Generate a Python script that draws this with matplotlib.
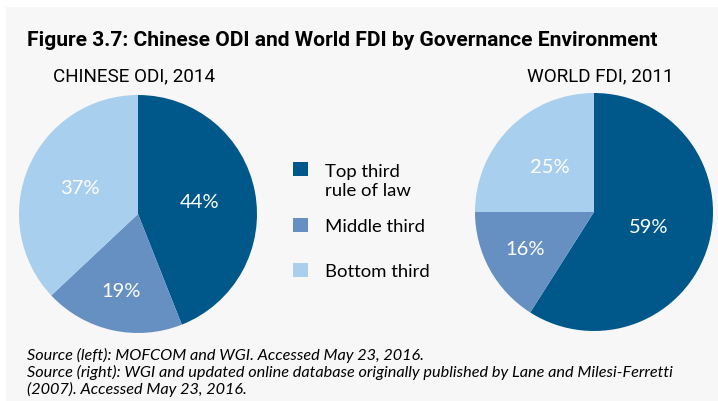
import numpy as np
import matplotlib.pyplot as plt
from matplotlib.patches import Rectangle

# data
groups = ['Top third\nrule of law', 'Middle third', 'Bottom third']
china_odi = [44, 19, 37]
world_fdi = [59, 16, 25]
colors = ['#00578a', '#6790c2', '#a9cfee']

W, H = 718, 401
fig = plt.figure(figsize=(W / 100, H / 100), dpi=100)
fig.patches.append(Rectangle((6 / W, 0), 1 - 6 / W, 1 - 7 / H, transform=fig.transFigure,
                             facecolor='#f7f7f7', edgecolor='none', zorder=-1))

head = ['Roboto', 'DejaVu Sans']
body = ['Lato', 'DejaVu Sans']


def px(x, y):
    # pixel coords (from top left) -> figure fraction
    return x / W, 1 - y / H


def draw_pie(vals, cx, cy, r, label_r):
    ax = fig.add_axes([(cx - r) / W, (H - cy - r) / H, 2 * r / W, 2 * r / H])
    wedges, _ = ax.pie(vals, colors=colors, startangle=90, counterclock=False,
                       wedgeprops=dict(linewidth=0))
    ax.set_xlim(-1, 1)
    ax.set_ylim(-1, 1)
    ax.set_aspect('equal')
    for w, v, lr in zip(wedges, vals, label_r):
        a = np.deg2rad((w.theta1 + w.theta2) / 2)
        ax.text(lr * np.cos(a), lr * np.sin(a), f'{v}%', color='white', fontsize=14.5,
                family=body, ha='center', va='center')
    return ax


draw_pie(china_odi, 138, 214, 119, [0.53, 0.67, 0.53])
draw_pie(world_fdi, 594, 212, 119, [0.48, 0.66, 0.53])

fig.text(*px(27, 46), 'Figure 3.7: Chinese ODI and World FDI by Governance Environment',
         family=head, fontweight='bold', fontsize=15.1, va='baseline')
fig.text(*px(53, 81), 'CHINESE ODI, 2014', family=head, fontsize=13.6, va='baseline')
fig.text(*px(527, 81), 'WORLD FDI, 2011', family=head, fontsize=13.6, va='baseline')

# legend
leg_y = [176, 232, 277]
for c, g, y in zip(colors, groups, leg_y):
    fig.patches.append(Rectangle(px(293, y), 15 / W, 14 / H, transform=fig.transFigure,
                                 facecolor=c, edgecolor='none'))
    # baseline of multi-line text is the last line
    fig.text(*px(325, y + 20 * g.count('\n')), g, family=body, fontsize=13.3,
             va='baseline', linespacing=1.2)

src = ('Source (left): MOFCOM and WGI. Accessed May 23, 2016.\n'
       'Source (right): WGI and updated online database originally published by Lane and Milesi-Ferretti\n'
       '(2007). Accessed May 23, 2016.')
fig.text(*px(27, 394), src, family=body, style='italic', fontsize=11.7, va='baseline',
         linespacing=1.15)

fig.savefig('out.png', dpi=100)
